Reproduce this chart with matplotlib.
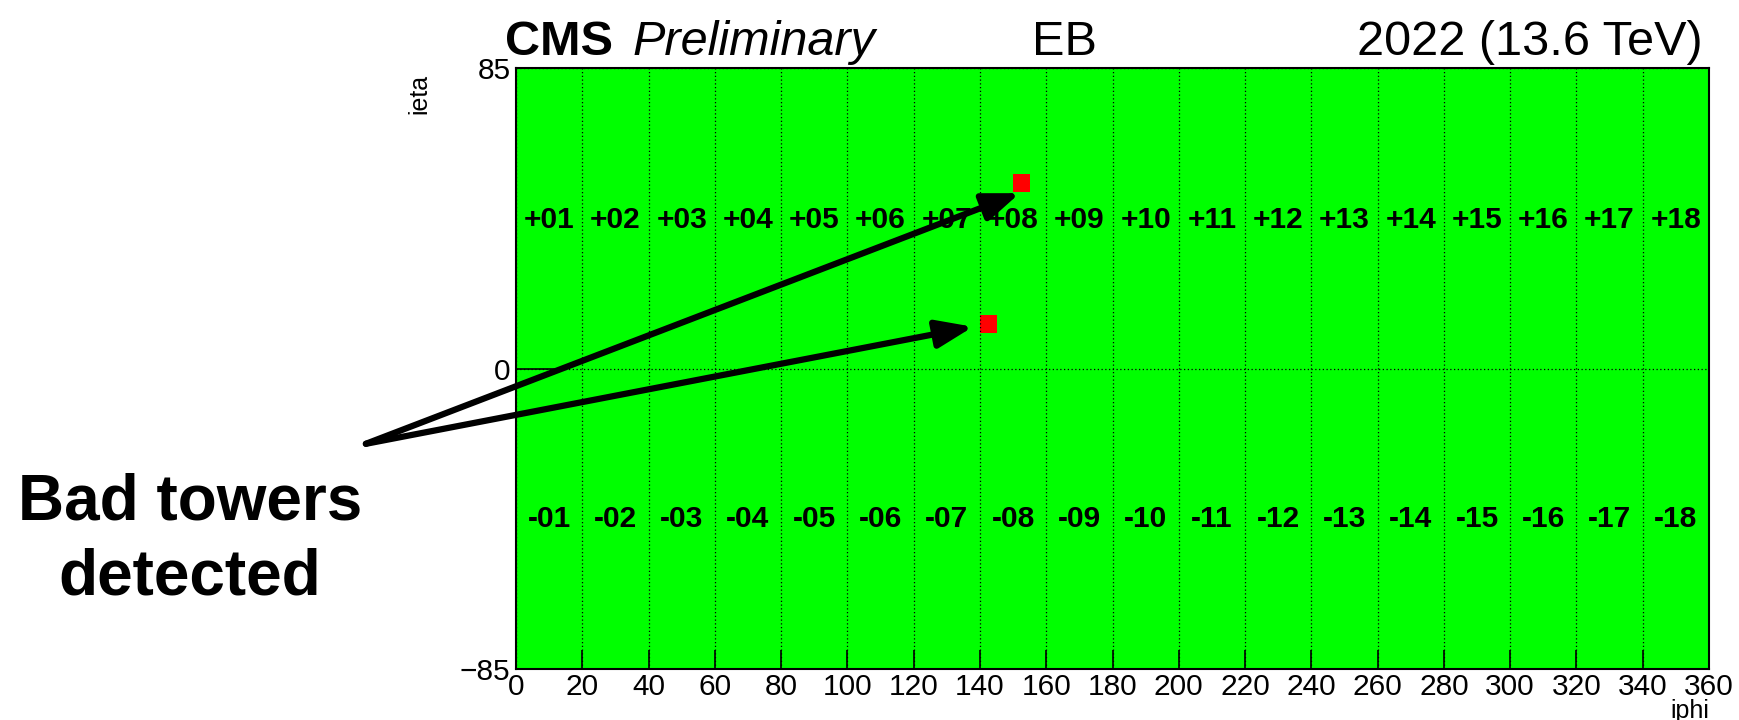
import numpy as np
import matplotlib
matplotlib.use("Agg")
import matplotlib.pyplot as plt
from matplotlib.colors import ListedColormap

plt.rcParams['font.family'] = ['Liberation Sans', 'DejaVu Sans']

# EB trigger tower map: 72 towers in iphi, 34 in ieta (5x5 crystals each)
iphi_edges = np.arange(0, 365, 5)
ieta_edges = np.arange(-85, 90, 5)

# bad towers: (iphi low edge, ieta low edge)
bad_towers = [(150, 50), (140, 10)]

sm_plus = ["+01", "+02", "+03", "+04", "+05", "+06", "+07", "+08", "+09",
           "+10", "+11", "+12", "+13", "+14", "+15", "+16", "+17", "+18"]
sm_minus = ["-01", "-02", "-03", "-04", "-05", "-06", "-07", "-08", "-09",
            "-10", "-11", "-12", "-13", "-14", "-15", "-16", "-17", "-18"]

x_ticks = [0, 20, 40, 60, 80, 100, 120, 140, 160, 180, 200, 220, 240, 260,
           280, 300, 320, 340, 360]
y_ticks = [-85, 0, 85]

# status: 0 = good (green), 1 = bad (red)
status = np.zeros((len(ieta_edges) - 1, len(iphi_edges) - 1))
for phi, eta in bad_towers:
    i = np.searchsorted(ieta_edges, eta)
    j = np.searchsorted(iphi_edges, phi)
    status[i, j] = 1

fig = plt.figure(figsize=(17.39, 7.2), dpi=100)
ax = fig.add_axes([516 / 1739, 51 / 720, 1193 / 1739, 601 / 720])

cmap = ListedColormap(["#00ff00", "#ff0000"])
ax.pcolormesh(iphi_edges, ieta_edges, status, cmap=cmap, vmin=0, vmax=1)

ax.set_xlim(0, 360)
ax.set_ylim(-85, 85)
ax.set_xticks(x_ticks)
ax.set_yticks(y_ticks)
ax.set_yticklabels(["\u221285", "0", "85"])
ax.tick_params(axis='x', direction='in', length=14, width=1.2, labelsize=21.5, pad=3)
ax.tick_params(axis='y', direction='in', length=28, width=1.2, labelsize=21.5, pad=4)
ax.grid(True, color='black', linestyle=(0, (1, 2)), linewidth=0.9)
for sp in ax.spines.values():
    sp.set_linewidth(1.5)

# supermodule labels
for k, (lp, lm) in enumerate(zip(sm_plus, sm_minus)):
    xc = 20 * k + 10
    ax.text(xc, 42, lp, ha='center', va='center', fontsize=21.5,
            fontweight='bold', zorder=5)
    ax.text(xc, -42.5, lm, ha='center', va='center', fontsize=21.5,
            fontweight='bold', zorder=5)

fig.text(419 / 1739, 1 - 74 / 720, "ieta", rotation=90,
         ha='center', va='top', fontsize=18)
fig.text(1709 / 1739, 1 - 711 / 720, "iphi", ha='right', va='center',
         fontsize=18)

# header
base = 1 - 55 / 720
fig.text(505 / 1739, base, "CMS", fontsize=35, fontweight='bold',
         ha='left', va='baseline')
fig.text(632 / 1739, base, "Preliminary", fontsize=35,
         fontstyle='italic', ha='left', va='baseline')
fig.text(1065 / 1739, base, "EB", fontsize=35, ha='center',
         va='baseline')
fig.text(1703 / 1739, base, "2022 (13.6 TeV)", fontsize=35,
         ha='right', va='baseline')

# annotation
fig.text(190 / 1739, 1 - 540 / 720, "Bad towers\ndetected", fontsize=46,
         fontweight='bold', ha='center', va='center', linespacing=1.3)

arrow_start = (-45.3, -21.3)
arrow_tips = [(152.0, 49.6), (137.9, 11.8)]
for tip in arrow_tips:
    ax.annotate("", xy=tip, xytext=arrow_start, annotation_clip=False,
                arrowprops=dict(arrowstyle='-|>,head_length=1.1,head_width=0.42',
                                mutation_scale=20, lw=4.5, color='black',
                                shrinkA=0, shrinkB=0), zorder=6)

fig.savefig("out.png", dpi=100)
